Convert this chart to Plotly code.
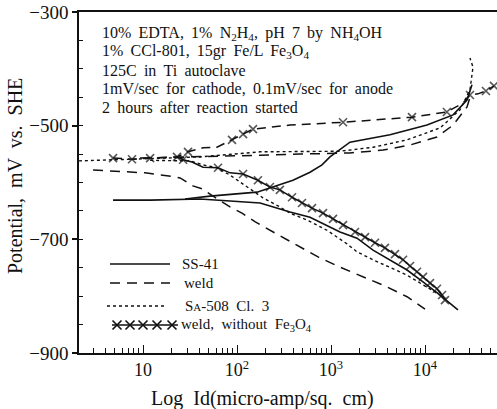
import plotly.graph_objects as go

# ---------------- data (current density in micro-amp/sq.cm, potential in mV vs SHE) -------------
ss41_cath_i = [4.8, 11.9, 40.4, 65.9, 176, 366, 598, 1247, 1891, 2800, 4244, 6440, 9522, 14450, 22400]
ss41_cath_e = [-631, -631, -629, -631, -636, -652, -661, -687, -698, -719, -736, -754, -775, -798, -824]
ss41_anod_i = [28, 51.6, 163, 394, 598, 802, 975, 1343, 1592, 4244, 10500, 19900, 28000, 31600]
ss41_anod_e = [-629, -624, -617, -596, -582, -569, -555, -538, -529, -516, -499, -481, -455, -428]

weld_cath_i = [2.94, 5.84, 10.5, 19.9, 24.8, 34.0, 42.4, 58.3, 84.3, 113, 155, 267, 434, 728, 1247, 2138, 3750, 6440, 10000]
weld_cath_e = [-578, -580, -583, -589, -592, -606, -611, -626, -643, -654, -669, -691, -710, -731, -749, -765, -782, -801, -823]
weld_anod_i = [9.3, 40.4, 176, 468, 1592, 3573, 6926, 13400, 19900, 28000, 30100]
weld_anod_e = [-557, -555, -552, -550, -548, -543, -534, -520, -499, -467, -450]

sa508_anod_i = [2.08, 9.3, 40.4, 176, 468, 1247, 2800, 6440, 14450, 23600, 30100, 32400, 30100]
sa508_anod_e = [-562, -559, -555, -546, -545, -545, -538, -525, -504, -472, -437, -397, -381]
sa508_cath_i = [11.9, 31.6, 43.5, 61.2, 84.3, 128, 189, 286, 366, 556, 906, 1479, 1891, 2800, 4244, 6440, 9522, 14450]
sa508_cath_e = [-561, -562, -569, -574, -587, -608, -627, -643, -654, -666, -684, -708, -722, -736, -749, -763, -780, -798]

nofe_anod_i = [4.8, 7.64, 11.9, 23.0, 30.1, 43.5, 61.2, 88.5, 116, 148, 366, 1343, 7271, 17100, 25400, 30100, 36600, 44500, 54200]
nofe_anod_e = [-557, -559, -557, -555, -546, -539, -538, -525, -515, -506, -499, -494, -485, -476, -460, -446, -444, -439, -430]
nofe_anod_mark = [1, 1, 1, 1, 1, 0, 0, 1, 1, 1, 0, 1, 1, 1, 0, 1, 0, 1, 1]
nofe_cath_i = [23.0, 26.7, 33.2, 43.5, 62.8, 84.3, 116, 167, 224, 286, 385, 491, 628, 822, 1050, 1343, 1799, 2302,
               2938, 3750, 4795, 5840, 6926, 8222, 9522, 11300, 13400, 15200, 16300]
nofe_cath_e = [-555, -560, -564, -573, -574, -583, -585, -596, -608, -613, -626, -636, -645, -654, -664, -675, -687,
               -696, -706, -715, -726, -736, -747, -757, -766, -777, -787, -798, -807]
nofe_cath_mark = [0, 1, 0, 0, 1, 0, 1, 1, 1, 1, 1, 1, 1, 1, 1, 1, 1, 1, 1, 1, 1, 1, 1, 1, 1, 1, 1, 1, 1]

y_major = [-900, -700, -500, -300]
y_major_text = ["\u2212900", "\u2212700", "\u2212500", "\u2212300"]
x_major = [10, 100, 1000, 10000]
x_major_text = ["10", "10<sup>2</sup>", "10<sup>3</sup>", "10<sup>4</sup>"]

legend_names = ["SS-41", "weld", "S<span style='font-size:11px'>A</span>-508  Cl.  3",
                "weld,  without  Fe<sub>3</sub>O<sub>4</sub>"]

info_lines = [
    "10% EDTA, 1% N<sub>2</sub>H<sub>4</sub>, pH 7 by NH<sub>4</sub>OH",
    "1% CCl-801, 15gr Fe/L Fe<sub>3</sub>O<sub>4</sub>",
    "125C in Ti autoclave",
    "1mV/sec for cathode, 0.1mV/sec for anode",
    "2 hours after reaction started",
]
x_title = "Log  Id(micro-amp/sq.  cm)"
y_title = "Potential,  mV  vs.  SHE"

# ---------------- styles ----------------
FONT = "Liberation Serif, Times New Roman, serif"
BLACK = "#111111"
SOLID = dict(color=BLACK, width=1.6)
WELD = dict(color=BLACK, width=1.5, dash="10px,7px")
SA = dict(color=BLACK, width=1.4, dash="3px,3px")
NOFE_A = dict(color=BLACK, width=1.5, dash="9px,6px")
NOFE_C = dict(color=BLACK, width=1.5)
XMARK = dict(symbol="x-thin", color=BLACK, line=dict(color=BLACK, width=1.6))

fig = go.Figure()


def curve(xs, ys, line, marks=None):
    if marks is None:
        fig.add_trace(go.Scatter(x=xs, y=ys, mode="lines", line=line, showlegend=False, hoverinfo="skip"))
    else:
        fig.add_trace(go.Scatter(x=xs, y=ys, mode="lines+markers", line=line,
                                 marker=dict(XMARK, size=[8 * m for m in marks]),
                                 showlegend=False, hoverinfo="skip"))


curve(sa508_anod_i, sa508_anod_e, SA)
curve(sa508_cath_i, sa508_cath_e, SA)
curve(weld_cath_i, weld_cath_e, WELD)
curve(weld_anod_i, weld_anod_e, WELD)
curve(ss41_cath_i, ss41_cath_e, SOLID)
curve(ss41_anod_i, ss41_anod_e, SOLID)
curve(nofe_anod_i, nofe_anod_e, NOFE_A, nofe_anod_mark)
curve(nofe_cath_i, nofe_cath_e, NOFE_C, nofe_cath_mark)

# ---------------- custom legend (pixel frame of the plot area via hidden overlay axes) -------------
L, R, T, B = 79, 497, 12, 353
W, H = R - L, B - T
legend_rows = [  # (x0, x1, y, text_x, line style, markers)
    (110, 170, 264, 180, SOLID, None),
    (110, 170, 283, 182, WELD, None),
    (107, 167, 306, 183, SA, None),
    (112, 178, 325, 179, NOFE_C, [117, 130, 143, 157, 172]),
]
for (x0, x1, yy, tx, ln, mk), name in zip(legend_rows, legend_names):
    fig.add_trace(go.Scatter(x=[x0, x1], y=[yy, yy], mode="lines", line=ln, xaxis="x2", yaxis="y2",
                             showlegend=False, hoverinfo="skip"))
    if mk:
        fig.add_trace(go.Scatter(x=mk, y=[yy] * len(mk), mode="markers", marker=dict(XMARK, size=9),
                                 xaxis="x2", yaxis="y2", showlegend=False, hoverinfo="skip"))
    fig.add_annotation(x=tx, y=yy, xref="x2", yref="y2", text=name, showarrow=False,
                       xanchor="left", yanchor="middle", font=dict(family=FONT, size=15, color=BLACK))

WIDE = " \u2009"  # slightly wider word gap, as in the reference typesetting
for k, line in enumerate(info_lines):
    fig.add_annotation(x=100, y=33 + k * 18.5, xref="x2", yref="y2", text=line.replace(" ", WIDE),
                       showarrow=False, xanchor="left", yanchor="middle",
                       font=dict(family=FONT, size=16, color=BLACK))


def px_to_paper(px, py):
    return (px - L) / W, (B - py) / H


# axis titles (paper coordinates)
tx, ty = px_to_paper(262, 399)
fig.add_annotation(x=tx, y=ty, xref="paper", yref="paper", text=x_title, showarrow=False,
                   xanchor="center", yanchor="middle", font=dict(family=FONT, size=20, color=BLACK))
tx, ty = px_to_paper(15, 176)
fig.add_annotation(x=tx, y=ty, xref="paper", yref="paper", text=y_title, showarrow=False,
                   textangle=-90, xanchor="center", yanchor="middle", font=dict(family=FONT, size=20, color=BLACK))

# minor tick positions (drawn by unlabeled overlay axes)
x_minor = [k * 10 ** d for d in range(0, 5) for k in range(1, 10)]
x_minor = [v for v in x_minor if 2.1 <= v <= 58000]
y_minor = list(range(-900, -299, 50))

fig.update_layout(
    width=497, height=409,
    margin=dict(l=L, r=497 - R, t=T, b=409 - B),
    paper_bgcolor="white", plot_bgcolor="white",
    showlegend=False,
    font=dict(family=FONT, color=BLACK),
    xaxis=dict(type="log", range=[0.319, 4.766], showgrid=False, zeroline=False,
               showline=True, linecolor=BLACK, linewidth=1.5, mirror=True,
               tickmode="array", tickvals=x_major, ticktext=x_major_text,
               ticks="inside", ticklen=8, tickwidth=1.3, tickcolor=BLACK,
               tickfont=dict(family=FONT, size=18, color=BLACK)),
    yaxis=dict(range=[-900, -300], showgrid=False, zeroline=False,
               showline=True, linecolor=BLACK, linewidth=1.5, mirror=False,
               tickmode="array", tickvals=y_major, ticktext=y_major_text,
               ticks="outside", ticklen=5, tickwidth=1.5, tickcolor=BLACK,
               tickfont=dict(family=FONT, size=19, color=BLACK)),
    xaxis3=dict(type="log", overlaying="x", range=[0.319, 4.766], showgrid=False, zeroline=False,
                showline=False, tickmode="array", tickvals=x_minor, showticklabels=False,
                ticks="inside", ticklen=5, tickwidth=1.1, tickcolor=BLACK, fixedrange=True),
    yaxis3=dict(overlaying="y", range=[-900, -300], showgrid=False, zeroline=False,
                showline=False, tickmode="array", tickvals=y_minor, showticklabels=False,
                ticks="inside", ticklen=4, tickwidth=1.3, tickcolor=BLACK, fixedrange=True),
    xaxis2=dict(overlaying="x", range=[L, R], visible=False, fixedrange=True),
    yaxis2=dict(overlaying="y", range=[B, T], visible=False, fixedrange=True),
)
# dummy invisible trace so the minor-tick overlay axes are drawn
fig.add_trace(go.Scatter(x=[10], y=[-600], xaxis="x3", yaxis="y3", mode="markers",
                         marker=dict(size=0, opacity=0), showlegend=False, hoverinfo="skip"))

fig.write_html("out.html")
